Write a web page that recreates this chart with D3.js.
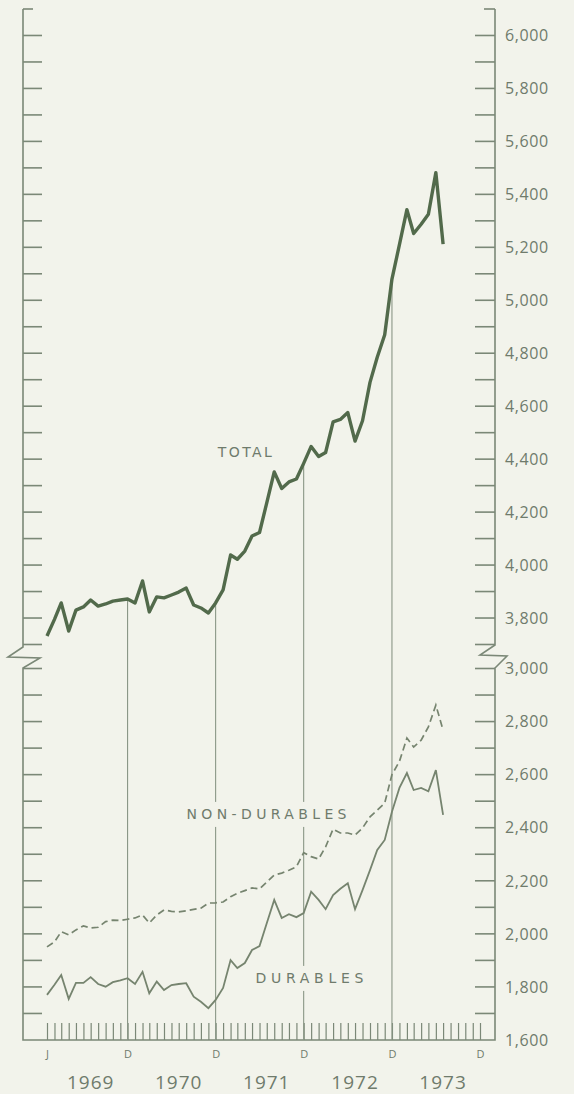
<!DOCTYPE html>
<html>
<head>
<meta charset="utf-8">
<script src="https://cdn.jsdelivr.net/npm/d3@7"></script>
<style>
    html, body { margin: 0; padding: 0; background: #f2f3eb; }
    svg text { font-family: "Open Sans", "DejaVu Sans", sans-serif; font-weight: 400; fill: #6f7b6c; }
</style>
</head>
<body>
<svg id="chart" width="574" height="1094"></svg>
<script>
// monthly values, Jan 1969 - Jul 1973
const firstMonth = new Date(1969, 0, 1)
const total = [3732, 3795, 3857, 3751, 3830, 3842, 3868, 3845, 3853, 3864, 3868, 3872,
    3857, 3940, 3823, 3880, 3876, 3887, 3898, 3913, 3849, 3838, 3819, 3857,
    3906, 4038, 4022, 4053, 4110, 4123, 4235, 4352, 4289, 4314, 4325, 4384,
    4448, 4410, 4425, 4541, 4550, 4576, 4468, 4545, 4690, 4785, 4870, 5080,
    5210, 5342, 5252, 5287, 5325, 5482, 5212]
const nonDurables = [1951, 1970, 2008, 1996, 2015, 2030, 2022, 2025, 2046, 2052, 2050, 2055,
    2060, 2071, 2041, 2071, 2090, 2085, 2083, 2087, 2092, 2097, 2116, 2117,
    2120, 2140, 2153, 2163, 2173, 2169, 2195, 2222, 2229, 2240, 2253, 2306,
    2291, 2282, 2328, 2395, 2380, 2380, 2372, 2399, 2441, 2466, 2493, 2600,
    2650, 2738, 2704, 2730, 2780, 2862, 2768]
const durables = [1770, 1808, 1845, 1755, 1815, 1815, 1837, 1811, 1801, 1818, 1825, 1833,
    1811, 1857, 1776, 1820, 1788, 1807, 1811, 1814, 1763, 1744, 1720, 1751,
    1796, 1901, 1871, 1890, 1939, 1954, 2040, 2128, 2060, 2074, 2063, 2078,
    2159, 2128, 2093, 2146, 2170, 2191, 2093, 2165, 2240, 2316, 2354, 2460,
    2550, 2606, 2542, 2550, 2537, 2617, 2448]
const upperTicks = d3.range(3700, 6101, 100)
const lowerTicks = d3.range(1700, 3001, 100)
const years = [1969, 1970, 1971, 1972, 1973]
const decemberLines = [new Date(1969, 11, 1), new Date(1970, 11, 1), new Date(1971, 11, 1), new Date(1972, 11, 1)]
const monthLabels = [new Date(1969, 0, 1), ...decemberLines, new Date(1973, 11, 1)]

const months = total.map((d, i) => d3.timeMonth.offset(firstMonth, i))

const axisColor = '#7b8877'
const leftX = 23, rightX = 495, bottomY = 1040

const svg = d3.select('#chart')
svg.append('rect').attr('width', 574).attr('height', 1094).attr('fill', '#f2f3eb')

const x = d3.scaleTime()
    .domain([new Date(1969, 0, 1), new Date(1973, 11, 1)])
    .range([47, 480])
const yUp = d3.scaleLinear().domain([3700, 6100]).range([644.5, 9])
const yLo = d3.scaleLinear().domain([1600, 3000]).range([bottomY, 668.5])

// frame with the broken scale
const frame = svg.append('g')
    .attr('fill', 'none')
    .attr('stroke', axisColor)
    .attr('stroke-width', 1.6)
frame.append('path').attr('d', d3.line()([
    [leftX, yUp(6100)], [leftX, 647], [8, 657], [40, 658], [leftX, 668], [leftX, bottomY], [rightX, bottomY],
    [rightX, 668], [507, 656], [480, 655], [rightX, 645], [rightX, yUp(6100)]
]))

// scale ticks, every 100
function sideTicks(scale, values) {
    const g = frame.append('g')
    g.selectAll('.tl').data(values).enter().append('line')
        .attr('x1', leftX).attr('x2', d => d === 6100 ? leftX + 10 : leftX + 19)
        .attr('y1', d => scale(d)).attr('y2', d => scale(d))
    g.selectAll('.tr').data(values).enter().append('line')
        .attr('x1', d => d === 6100 ? rightX - 11 : rightX - 20).attr('x2', rightX)
        .attr('y1', d => scale(d)).attr('y2', d => scale(d))
}
sideTicks(yUp, upperTicks)
sideTicks(yLo, lowerTicks)

// value labels on the right
const fmt = d3.format(',')
const labels = [...upperTicks.filter(d => d % 200 === 0 && d <= 6000).map(d => [d, yUp(d)]),
...lowerTicks.concat([1600]).filter(d => d % 200 === 0).map(d => [d, yLo(d)])]
svg.append('g').selectAll('text').data(labels).enter().append('text')
    .attr('x', 505)
    .attr('y', d => d[1])
    .attr('dy', '0.36em')
    .style('font-size', '16px')
    .style('letter-spacing', '0.6px')
    .text(d => fmt(d[0]))

// month ticks along the bottom
const monthAxis = svg.append('g')
    .attr('transform', `translate(0,${bottomY})`)
    .call(d3.axisTop(x).ticks(d3.timeMonth.every(1)).tickSize(17).tickFormat(''))
monthAxis.select('.domain').remove()
monthAxis.selectAll('line').attr('stroke', axisColor).attr('stroke-width', 1.2)

const monthLab = svg.append('g')
    .attr('transform', `translate(0,${bottomY})`)
    .call(d3.axisBottom(x).tickValues(monthLabels).tickSize(0).tickPadding(10)
        .tickFormat(d => d.getMonth() === 0 ? 'J' : 'D'))
monthLab.select('.domain').remove()
monthLab.selectAll('text').style('font-size', '11px').style('font-family', null).attr('fill', null)

svg.append('g').selectAll('text').data(years).enter().append('text')
    .attr('x', d => x(new Date(d, 6, 1)))
    .attr('y', 1082)
    .attr('dy', '0.36em')
    .attr('text-anchor', 'middle')
    .style('font-size', '19px')
    .style('letter-spacing', '1px')
    .text(d => d)

// December guide lines, from the base up to the total curve
svg.append('g').selectAll('line').data(decemberLines).enter().append('line')
    .attr('x1', d => x(d)).attr('x2', d => x(d))
    .attr('y1', bottomY)
    .attr('y2', d => yUp(total[d3.timeMonth.count(firstMonth, d)]))
    .attr('stroke', '#8a9686')
    .attr('stroke-width', 1.1)

// series
const lineUp = d3.line().x((d, i) => x(months[i])).y(d => yUp(d))
const lineLo = d3.line().x((d, i) => x(months[i])).y(d => yLo(d))

svg.append('path').datum(nonDurables)
    .attr('d', lineLo)
    .attr('fill', 'none')
    .attr('stroke', '#76846f')
    .attr('stroke-width', 1.7)
    .attr('stroke-dasharray', '7,4')
svg.append('path').datum(durables)
    .attr('d', lineLo)
    .attr('fill', 'none')
    .attr('stroke', '#76846f')
    .attr('stroke-width', 1.8)
svg.append('path').datum(total)
    .attr('d', lineUp)
    .attr('fill', 'none')
    .attr('stroke', '#526a4b')
    .attr('stroke-width', 3.4)
    .attr('stroke-linejoin', 'round')

// series names, with paper behind them to break the guide lines
const names = [
    { text: 'TOTAL', date: new Date(1971, 3, 1), value: 4427, scale: yUp, len: 54 },
    { text: 'NON-DURABLES', date: new Date(1971, 5, 30), value: 2452, scale: yLo, len: 160 },
    { text: 'DURABLES', date: new Date(1971, 11, 25), value: 1834, scale: yLo, len: 108 }
]
const nameG = svg.append('g').selectAll('g').data(names).enter().append('g')
    .attr('transform', d => `translate(${x(d.date)},${d.scale(d.value)})`)
nameG.append('rect')
    .attr('x', d => -d.len / 2 - 4).attr('y', -12)
    .attr('width', d => d.len + 8).attr('height', 25)
    .attr('fill', '#f2f3eb')
nameG.append('text')
    .attr('text-anchor', 'middle')
    .attr('dy', '0.36em')
    .attr('textLength', d => d.len)
    .attr('lengthAdjust', 'spacing')
    .style('font-family', '"DejaVu Sans", sans-serif')
    .style('font-size', '14px')
    .text(d => d.text)
</script>
</body>
</html>
